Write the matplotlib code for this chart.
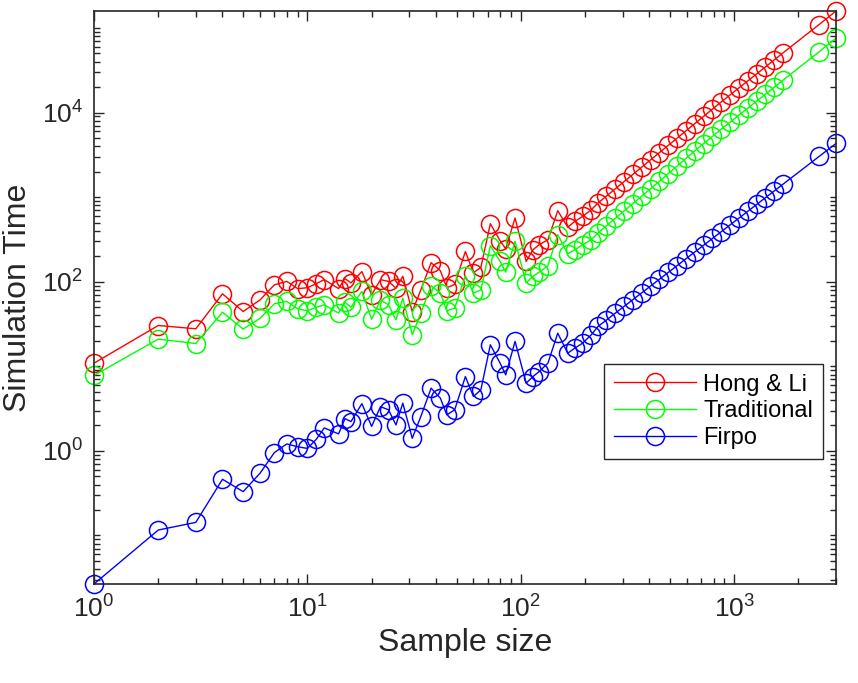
import numpy as np
import matplotlib
matplotlib.use('Agg')
import matplotlib.pyplot as plt
from matplotlib.ticker import LogLocator, NullFormatter

plt.rcParams['font.family'] = ['Liberation Sans', 'DejaVu Sans']
plt.rcParams['mathtext.default'] = 'regular'

sample_size = [1, 2, 3, 4, 5, 6, 7, 8, 9, 10, 11, 12, 14, 15, 16, 18, 20, 22, 24, 26, 28,
               31, 34, 38, 42, 45, 49, 55, 60, 65, 72, 80, 85, 94,
               106, 114, 122, 134, 149, 166, 179, 195, 214, 230,
               252, 277, 305, 335, 369, 406, 446, 491, 540, 594, 654, 719, 791, 870,
               957, 1053, 1158, 1274, 1401, 1541, 1695, 2500, 3000]

hong_li = [10.9, 30.4, 27.8, 72, 44.5, 61, 92, 101, 83, 85, 95, 106, 83, 109, 97, 132, 70,
           106, 101, 84, 116, 44.5, 80, 168, 135, 85, 93, 228, 128, 148, 486, 305, 246, 567,
           174, 239, 274, 314, 692, 441, 517, 593, 711, 853,
           1030, 1254, 1530, 1857, 2270, 2765, 3360, 4100, 4990, 6080, 7420, 9030, 11000,
           13400, 16200, 19600, 23700, 28700, 34700, 42000, 50900, 110000, 159000]

traditional = [7.8, 21, 18.6, 43.6, 27.6, 37, 55, 58.5, 48, 45.4, 50, 53.4, 42.6, 57, 50, 77,
               36, 61, 53.4, 35.5, 64, 23.6, 42.6, 90, 73.5, 45.4, 48.8, 118, 73.5, 80, 267,
               174, 130, 300, 97, 116, 130, 155, 360, 214, 239, 274, 314, 377,
               460, 562, 689, 840, 1032, 1263, 1541, 1898, 2332, 2868, 3533, 4300, 5238,
               6381, 7714, 9333, 11286, 13667, 16524, 20000, 24238, 52381, 75714]

firpo = [0.0267, 0.116, 0.143, 0.462, 0.33, 0.545, 0.955, 1.21, 1.12, 1.07, 1.37, 1.87,
         1.59, 2.41, 2.22, 3.62, 1.95, 3.34, 3.06, 2.03, 3.67, 1.41, 2.55, 5.52, 4.2, 2.67,
         3.06, 7.57, 4.4, 5.27, 18, 10.9, 7.93, 19.7, 6.33, 7.57, 8.68, 10.9, 24.7, 14.3,
         16.4, 18.8, 23.6, 29.6,
         35.3, 42.5, 51.2, 61.4, 74.1, 89.1, 107, 129, 155, 187, 225, 270, 325, 391,
         471, 566, 681, 820, 986, 1185, 1426, 3031, 4316]

fig = plt.figure(figsize=(8.58, 6.83), dpi=100)
ax = fig.add_axes([94 / 858, 1 - 584 / 683, 742 / 858, 573 / 683])

style = dict(marker='o', markersize=13, markerfacecolor='none', markeredgewidth=1.1,
             linewidth=1.0, clip_on=False)
ax.plot(sample_size, hong_li, color=(1, 0, 0), label='Hong & Li', **style)
ax.plot(sample_size, traditional, color=(0, 1, 0), label='Traditional', **style)
ax.plot(sample_size, firpo, color=(0, 0, 1), label='Firpo', **style)

ax.set_xscale('log')
ax.set_yscale('log')
ax.set_xlim(min(sample_size), max(sample_size))
ymin = min(min(hong_li), min(traditional), min(firpo))
ymax = max(max(hong_li), max(traditional), max(firpo))
ax.set_ylim(ymin, ymax)

ax.set_xticks([1, 10, 100, 1000])
ax.set_yticks([1, 100, 10000])
ax.xaxis.set_minor_locator(LogLocator(base=10, subs=np.arange(1, 10), numticks=50))
ax.yaxis.set_minor_locator(LogLocator(base=10, subs=np.arange(1, 10), numticks=50))
ax.xaxis.set_minor_formatter(NullFormatter())
ax.yaxis.set_minor_formatter(NullFormatter())

axcol = '#262626'
for s in ax.spines.values():
    s.set_color(axcol)
    s.set_linewidth(1.2)
ax.tick_params(which='both', direction='in', top=True, right=True, color=axcol,
               labelcolor=axcol, labelsize=19, width=1.0)
ax.tick_params(which='major', length=7, pad=8)
ax.tick_params(which='minor', length=4)

ax.set_xlabel('Sample size', fontsize=23, color=axcol, labelpad=4)
ax.set_ylabel('Simulation Time', fontsize=23, color=axcol, labelpad=6)

leg = ax.legend(loc='lower right', bbox_to_anchor=(0.9825, 0.218), borderaxespad=0,
                fontsize=17, numpoints=1, handlelength=3.5, labelspacing=0.2,
                borderpad=0.42, handletextpad=0.3, fancybox=False, framealpha=1)
leg.get_frame().set_edgecolor(axcol)
leg.get_frame().set_linewidth(1.0)

fig.savefig('out.png', dpi=100)
